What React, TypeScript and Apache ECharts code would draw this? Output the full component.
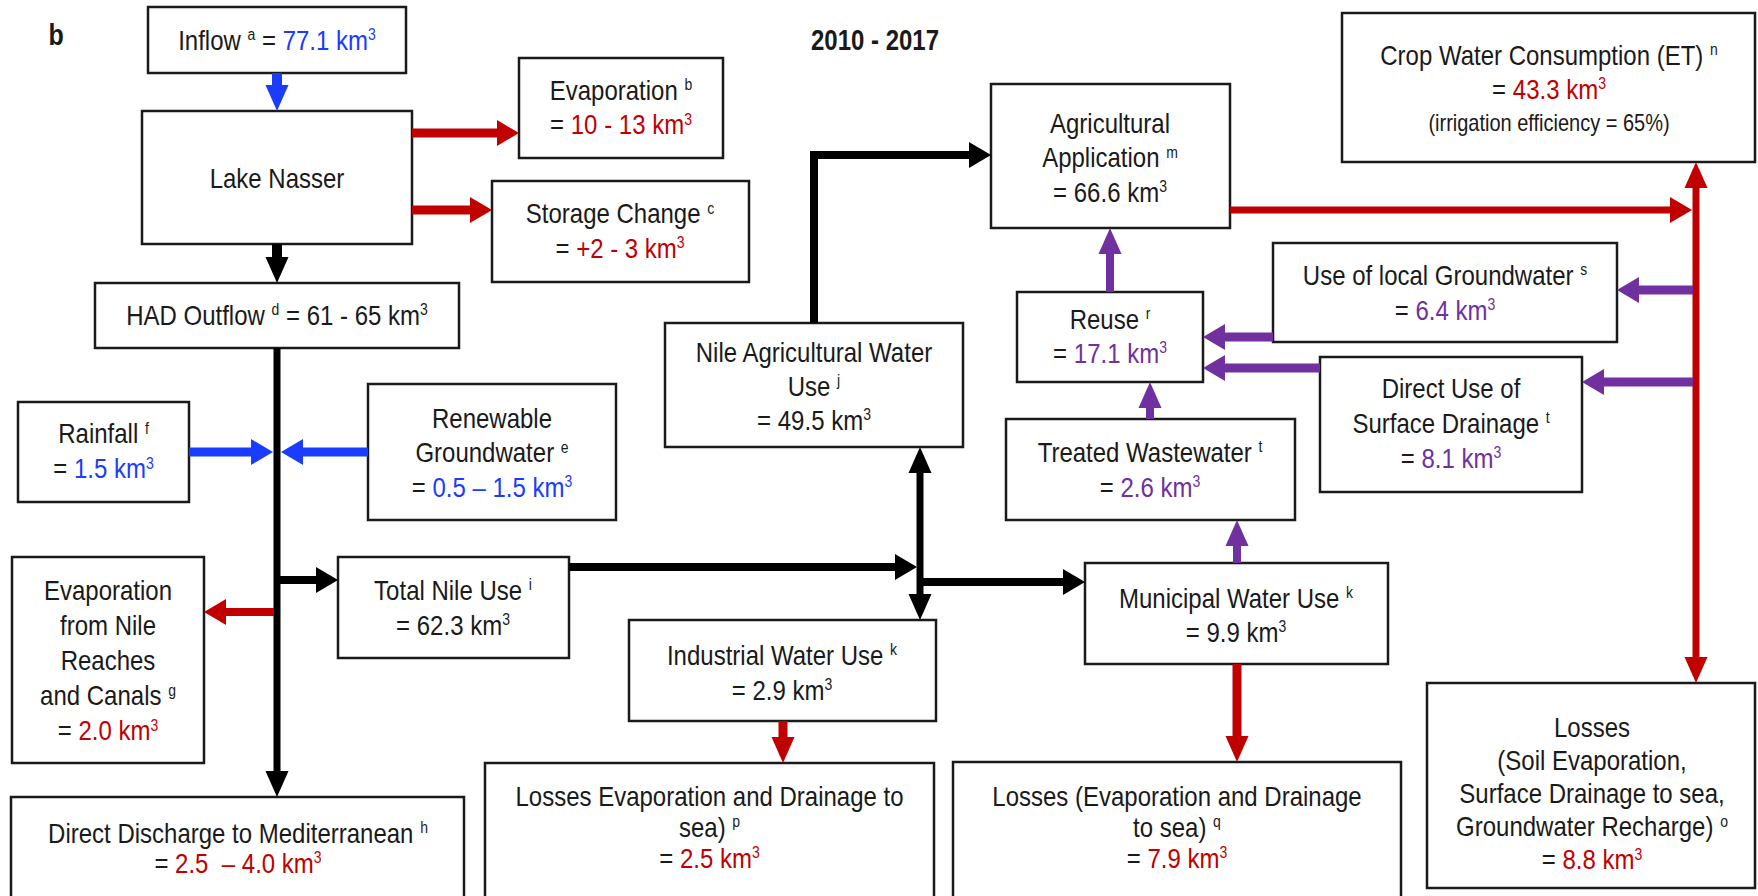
import React, { useEffect, useRef } from 'react';
import * as echarts from 'echarts';

const FONT = '"Liberation Sans", Arial, Helvetica, sans-serif';
const TEXT_SCALE_Y = 1.17;
const INK = '#1a1a1a';
const BLACK = '#000000';
const RED = '#c00000';
const BLUE = '#1a3cff';
const PURPLE = '#7030a0';

const TITLE = '2010 - 2017';
const PANEL = 'b';

// ---- labels & values (rich text: n=normal, s=superscript, r/b/p = red/blue/purple value) ----
const nodeIds = [
  'inflow', 'lake', 'evaporation', 'storage', 'had', 'rainfall', 'renewable', 'evapNile',
  'totalNile', 'nileAg', 'industrial', 'municipal', 'agApp', 'crop', 'localGW', 'reuse',
  'directUse', 'treated', 'lossesP', 'lossesQ', 'lossesO', 'discharge',
];

const nodeLabels: string[][] = [
  ['{n|Inflow }{s|a}{n| = }{b|77.1 km}{bs|3}'],
  ['{n|Lake Nasser}'],
  ['{n|Evaporation }{s|b}', '{n|= }{r|10 - 13 km}{rs|3}'],
  ['{n|Storage Change }{s|c}', '{n|= }{r|+2 - 3 km}{rs|3}'],
  ['{n|HAD Outflow }{s|d}{n| = 61 - 65 km}{s|3}'],
  ['{n|Rainfall }{s|f}', '{n|= }{b|1.5 km}{bs|3}'],
  ['{n|Renewable}', '{n|Groundwater }{s|e}', '{n|= }{b|0.5 – 1.5 km}{bs|3}'],
  ['{n|Evaporation}', '{n|from Nile}', '{n|Reaches}', '{n|and Canals }{s|g}', '{n|= }{r|2.0 km}{rs|3}'],
  ['{n|Total Nile Use }{s|i}', '{n|= 62.3 km}{s|3}'],
  ['{n|Nile Agricultural Water}', '{n|Use }{s|j}', '{n|= 49.5 km}{s|3}'],
  ['{n|Industrial Water Use }{s|k}', '{n|= 2.9 km}{s|3}'],
  ['{n|Municipal Water Use }{s|k}', '{n|= 9.9 km}{s|3}'],
  ['{n|Agricultural}', '{n|Application }{s|m}', '{n|= 66.6 km}{s|3}'],
  ['{n|Crop Water Consumption (ET) }{s|n}', '{n|= }{r|43.3 km}{rs|3}', '{sm|(irrigation efficiency = 65%)}'],
  ['{n|Use of local Groundwater }{s|s}', '{n|= }{p|6.4 km}{ps|3}'],
  ['{n|Reuse }{s|r}', '{n|= }{p|17.1 km}{ps|3}'],
  ['{n|Direct Use of}', '{n|Surface Drainage }{s|t}', '{n|= }{p|8.1 km}{ps|3}'],
  ['{n|Treated Wastewater }{s|t}', '{n|= }{p|2.6 km}{ps|3}'],
  ['{n|Losses Evaporation and Drainage to}', '{n|sea) }{s|p}', '{n|= }{r|2.5 km}{rs|3}'],
  ['{n|Losses (Evaporation and Drainage}', '{n|to sea) }{s|q}', '{n|= }{r|7.9 km}{rs|3}'],
  ['{n|Losses}', '{n|(Soil Evaporation,}', '{n|Surface Drainage to sea,}', '{n|Groundwater Recharge) }{s|o}', '{n|= }{r|8.8 km}{rs|3}'],
  ['{n|Direct Discharge to Mediterranean }{s|h}', '{n|= }{r|2.5  – 4.0 km}{rs|3}'],
];

// ---- layout (diagram coordinates): [x0, y0, x1, y1, textX, textY, lineSpacing] ----
const nodeLayout: number[][] = [
  [148, 7, 406, 73, 277, 40, 34.5],
  [142, 111, 412, 244, 277, 178, 34.5],
  [519, 58, 723, 158, 621, 107.5, 34.5],
  [492, 181, 749, 282, 620, 231, 34.5],
  [95, 283, 459, 348, 277, 315, 34.5],
  [18, 402, 189, 502, 103.5, 451, 35],
  [368, 384, 616, 520, 492, 452.5, 34.5],
  [12, 557, 204, 763, 108, 660.5, 35],
  [338, 557, 569, 658, 453, 607.5, 35],
  [665, 323, 963, 447, 814, 386, 34],
  [629, 620, 936, 721, 782, 672.5, 35],
  [1085, 563, 1388, 664, 1236, 615, 34],
  [991, 84, 1230, 228, 1110, 157.5, 34.5],
  [1342, 13, 1755, 162, 1549, 89, 34],
  [1273, 243, 1617, 342, 1445, 292.5, 35],
  [1017, 292, 1203, 382, 1110, 336, 34],
  [1320, 357, 1582, 492, 1451, 423, 35],
  [1006, 419, 1295, 520, 1150, 469.5, 35],
  [485, 763, 934, 905, 709.5, 827, 31],
  [953, 762, 1401, 905, 1177, 827, 31],
  [1427, 683, 1755, 888, 1592, 793.5, 33],
  [11, 797, 464, 905, 238, 848, 30],
];

// ---- arrows: polyline points, last point is the tip ----
const arrowPaths: number[][][] = [
  [[277, 73], [277, 111]],
  [[277, 244], [277, 283]],
  [[412, 133], [519, 133]],
  [[412, 210], [492, 210]],
  [[277, 348], [277, 797]],
  [[189, 452], [273, 452]],
  [[368, 452], [281, 452]],
  [[274, 612], [204, 612]],
  [[280, 580], [338, 580]],
  [[569, 567], [917, 567]],
  [[920, 447], [920, 620]],
  [[923, 582], [1085, 582]],
  [[814, 323], [814, 155], [991, 155]],
  [[783, 721], [783, 763]],
  [[1237, 664], [1237, 762]],
  [[1237, 563], [1237, 520]],
  [[1150, 419], [1150, 382]],
  [[1110, 292], [1110, 228]],
  [[1230, 210], [1692, 210]],
  [[1696, 683], [1696, 162]],
  [[1693, 290], [1617, 290]],
  [[1693, 382], [1582, 382]],
  [[1273, 337], [1203, 337]],
  [[1320, 368], [1203, 368]],
];
const arrowColors = [
  BLUE, BLACK, RED, RED, BLACK, BLUE, BLUE, RED, BLACK, BLACK, BLACK, BLACK, BLACK,
  RED, RED, PURPLE, PURPLE, PURPLE, RED, RED, PURPLE, PURPLE, PURPLE, PURPLE,
];
const arrowWidths = [10, 10, 9, 9, 7, 9, 9, 8, 8, 8, 7, 8, 8, 9, 9, 8, 8, 8, 7, 7, 9, 9, 9, 9];
const arrowBothEnds = [
  false, false, false, false, false, false, false, false, false, false, true, false, false,
  false, false, false, false, false, false, true, false, false, false, false,
];

const makeRich = (lh: number) => {
  const base = { fontFamily: FONT, fontSize: 24, lineHeight: lh };
  const sup = { fontFamily: FONT, fontSize: 14, padding: [0, 0, 10, 0], verticalAlign: 'middle' };
  return {
    n: { ...base, fill: INK, color: INK },
    r: { ...base, fill: RED, color: RED },
    b: { ...base, fill: BLUE, color: BLUE },
    p: { ...base, fill: PURPLE, color: PURPLE },
    sm: { ...base, fontSize: 20, fill: INK, color: INK },
    s: { ...sup, fill: INK, color: INK },
    rs: { ...sup, fill: RED, color: RED },
    bs: { ...sup, fill: BLUE, color: BLUE },
    ps: { ...sup, fill: PURPLE, color: PURPLE },
  };
};

const headFor = (tip: number[], from: number[]) => {
  const dx = tip[0] - from[0];
  const dy = tip[1] - from[1];
  const len = Math.hypot(dx, dy) || 1;
  const ux = dx / len;
  const uy = dy / len;
  const horiz = Math.abs(ux) > Math.abs(uy);
  const L = horiz ? 22 : 26;
  const H = horiz ? 13 : 11.5;
  const bx = tip[0] - ux * L;
  const by = tip[1] - uy * L;
  return {
    poly: [
      [tip[0], tip[1]],
      [bx - uy * H, by + ux * H],
      [bx + uy * H, by - ux * H],
    ],
    base: [tip[0] - ux * (L - 2), tip[1] - uy * (L - 2)],
  };
};

export default function App() {
  const ref = useRef<HTMLDivElement>(null);

  useEffect(() => {
    if (!ref.current) return;
    const chart = echarts.init(ref.current, undefined, { renderer: 'svg' });

    const option: any = {
      animation: false,
      backgroundColor: '#ffffff',
      grid: { left: 0, right: 0, top: 0, bottom: 0, containLabel: false },
      xAxis: { type: 'value', min: 0, max: 1758, show: false },
      yAxis: { type: 'value', min: 0, max: 896, inverse: true, show: false },
      graphic: {
        elements: [
          {
            type: 'text',
            x: 875,
            y: 40,
            scaleY: 1.2,
            z: 10,
            style: {
              text: TITLE,
              fontFamily: FONT,
              fontSize: 24,
              fontWeight: 'bold',
              fill: INK,
              align: 'center',
              verticalAlign: 'middle',
            },
          },
          {
            type: 'text',
            x: 56,
            y: 35,
            scaleY: 1.17,
            z: 10,
            style: {
              text: PANEL,
              fontFamily: FONT,
              fontSize: 25,
              fontWeight: 'bold',
              fill: INK,
              align: 'center',
              verticalAlign: 'middle',
            },
          },
        ],
      },
      series: [
        {
          type: 'custom',
          name: 'boxes',
          silent: true,
          clip: false,
          z: 2,
          data: nodeLayout.map((l, i) => ({ name: nodeIds[i], value: l })),
          renderItem: (params: any, api: any) => {
            const i = params.dataIndex;
            const tl = api.coord([api.value(0), api.value(1)]);
            const br = api.coord([api.value(2), api.value(3)]);
            const tc = api.coord([api.value(4), api.value(5)]);
            const spacing = api.value(6) as number;
            return {
              type: 'group',
              children: [
                {
                  type: 'rect',
                  shape: { x: tl[0], y: tl[1], width: br[0] - tl[0], height: br[1] - tl[1] },
                  style: { fill: '#ffffff', stroke: INK, lineWidth: 2.5 },
                },
                {
                  type: 'text',
                  x: tc[0],
                  y: tc[1],
                  scaleY: TEXT_SCALE_Y,
                  style: {
                    text: nodeLabels[i].join('\n'),
                    rich: makeRich(spacing / TEXT_SCALE_Y),
                    fontFamily: FONT,
                    fontSize: 24,
                    fill: INK,
                    align: 'center',
                    verticalAlign: 'middle',
                  },
                },
              ],
            };
          },
        },
        {
          type: 'custom',
          name: 'flows',
          silent: true,
          clip: false,
          z: 3,
          data: arrowPaths.map((p, i) => ({ name: 'flow' + i, value: [p[0][0], p[0][1]] })),
          renderItem: (params: any, api: any) => {
            const i = params.dataIndex;
            const pts = arrowPaths[i].map((p) => api.coord(p));
            const color = arrowColors[i];
            const width = arrowWidths[i];
            const n = pts.length;
            const endHead = headFor(pts[n - 1], pts[n - 2]);
            const shaft = pts.slice(0, n - 1).concat([endHead.base]);
            const children: any[] = [];
            if (arrowBothEnds[i]) {
              const startHead = headFor(pts[0], pts[1]);
              shaft[0] = startHead.base;
              children.push({
                type: 'polygon',
                shape: { points: startHead.poly },
                style: { fill: color, stroke: 'none' },
              });
            }
            children.unshift({
              type: 'polyline',
              shape: { points: shaft },
              style: { stroke: color, lineWidth: width, fill: 'none', lineCap: 'butt', lineJoin: 'miter' },
            });
            children.push({
              type: 'polygon',
              shape: { points: endHead.poly },
              style: { fill: color, stroke: 'none' },
            });
            return { type: 'group', children };
          },
        },
      ],
    };

    chart.setOption(option);
    return () => {
      chart.dispose();
    };
  }, []);

  return (
    <div
      ref={ref}
      style={{ position: 'fixed', left: 0, top: 0, width: 1758, height: 896, background: '#ffffff' }}
    />
  );
}
